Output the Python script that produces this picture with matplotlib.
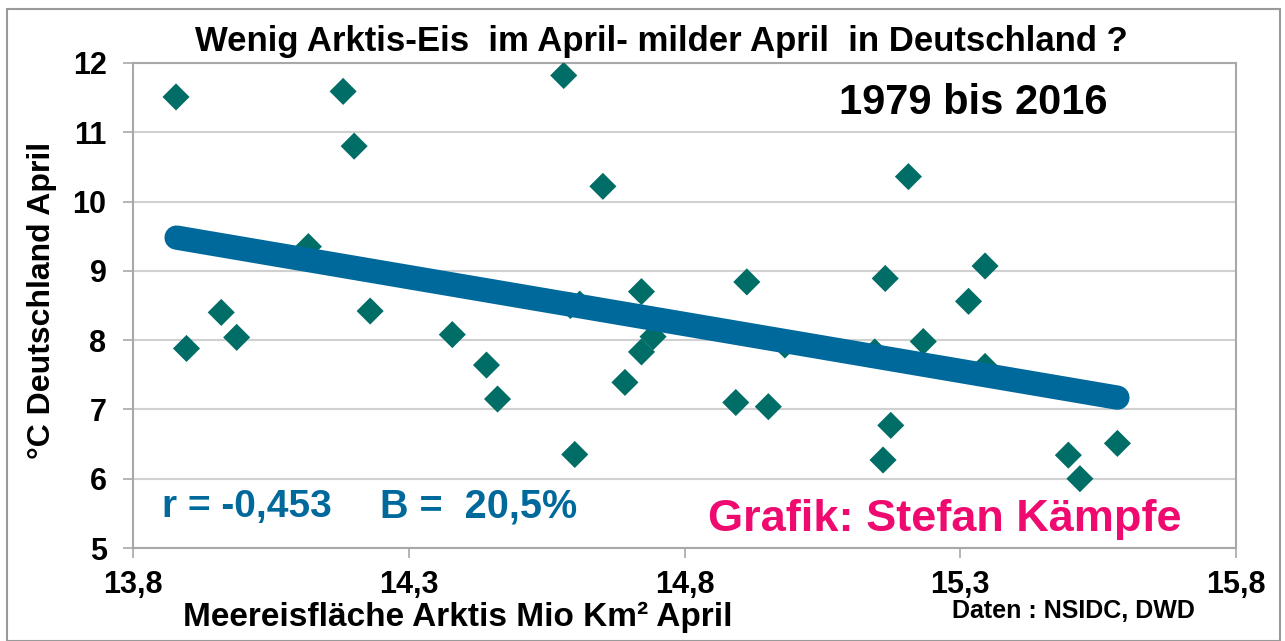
import matplotlib
matplotlib.use("Agg")
import matplotlib.pyplot as plt
from matplotlib.patches import Rectangle

plt.rcParams['font.family'] = ['Liberation Sans', 'DejaVu Sans']

# Data: April Arctic sea ice extent (Mio km²) vs. April temperature Germany (°C)
ice_extent = [13.878, 13.897, 13.960, 13.988, 14.118, 14.181, 14.201, 14.230,
              14.379, 14.441, 14.461, 14.581, 14.593, 14.610, 14.601, 14.652,
              14.692, 14.722, 14.722, 14.743, 14.893, 14.913, 14.952, 14.982,
              15.145, 15.164, 15.174, 15.160, 15.206, 15.233, 15.315, 15.345,
              15.345, 15.496, 15.517, 15.585]
temp_april = [11.51, 7.88, 8.40, 8.04, 9.35, 11.59, 10.80, 8.42,
              8.08, 7.64, 7.15, 11.82, 8.50, 8.52, 6.35, 10.22,
              7.39, 8.70, 7.83, 8.05, 7.10, 8.84, 7.04, 7.93,
              7.83, 8.89, 6.77, 6.27, 10.36, 7.98, 8.56, 9.07,
              7.62, 6.34, 6.00, 6.51]

trend_x = [13.879, 15.585]
trend_y = [9.48, 7.17]

x_ticks = [13.8, 14.3, 14.8, 15.3, 15.8]
x_tick_labels = ["13,8", "14,3", "14,8", "15,3", "15,8"]
y_ticks = [5, 6, 7, 8, 9, 10, 11, 12]

W, H = 1285, 641
fig = plt.figure(figsize=(W / 100, H / 100), dpi=100)
fig.patch.set_facecolor('white')

ax = fig.add_axes([133 / W, 1 - 548 / H, (1236 - 133) / W, (548 - 63) / H])
ax.set_xlim(13.8, 15.8)
ax.set_ylim(5, 12)

ax.scatter(ice_extent, temp_april, marker='D', s=13.8 ** 2, color='#006D66',
           edgecolors='none', zorder=3)
ax.plot(trend_x, trend_y, color='#00699B', linewidth=17.5, solid_capstyle='round',
        zorder=4)

ax.set_xticks(x_ticks)
ax.set_xticklabels(x_tick_labels)
ax.set_yticks(y_ticks)
ax.grid(axis='y', color='#D0D0D0', linewidth=1.5, zorder=0)
ax.set_axisbelow(True)
for sp in ax.spines.values():
    sp.set_color('#A8A8A8')
    sp.set_linewidth(1.5)
ax.tick_params(axis='both', direction='out', color='#A8A8A8', width=1.2,
               length=7, labelsize=22)
ax.tick_params(axis='x', pad=9)
ax.tick_params(axis='y', pad=12)
for lbl in ax.get_xticklabels() + ax.get_yticklabels():
    lbl.set_fontweight('bold')

fig.text(661 / W, 1 - 42 / H,
         "Wenig Arktis-Eis  im April- milder April  in Deutschland ?",
         ha='center', va='center', fontsize=25, fontweight='bold')
fig.text(973 / W, 1 - 103 / H, "1979 bis 2016", ha='center', va='center',
         fontsize=30, fontweight='bold')
fig.text(162 / W, 1 - 507 / H, "r = -0,453", ha='left',
         va='center', fontsize=28, fontweight='bold', color='#00699B')
fig.text(380 / W, 1 - 507 / H, "B =  20,5%", ha='left',
         va='center', fontsize=28.5, fontweight='bold', color='#00699B')
fig.text(945 / W, 1 - 520 / H, "Grafik: Stefan Kämpfe", ha='center',
         va='center', fontsize=32.5, fontweight='bold', color='#EE0A6E')
fig.text(1073 / W, 1 - 611 / H, "Daten : NSIDC, DWD", ha='center',
         va='center', fontsize=18, fontweight='bold')
fig.text(458 / W, 1 - 617 / H, "Meereisfläche Arktis Mio Km² April",
         ha='center', va='center', fontsize=24, fontweight='bold')
fig.text(42 / W, 1 - 300 / H, "°C Deutschland April", ha='center',
         va='center', rotation=90, fontsize=23, fontweight='bold')

fig.patches.append(Rectangle((7 / W, 0), (1280 - 7) / W, 1 - 9 / H,
                             transform=fig.transFigure, fill=False,
                             edgecolor='#9A9A9A', linewidth=1.5))

fig.savefig("out.png", dpi=100)
